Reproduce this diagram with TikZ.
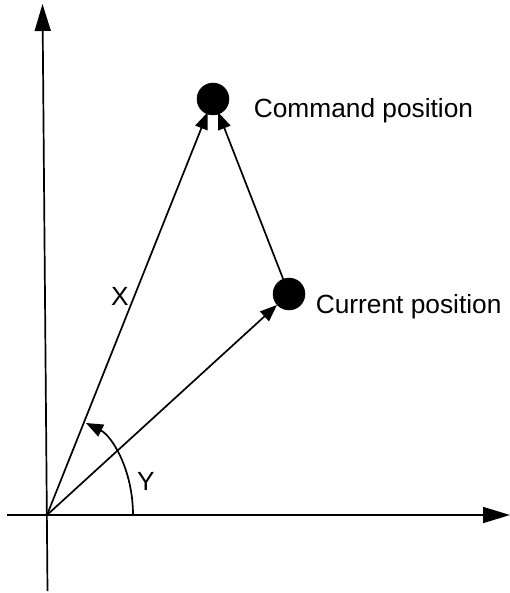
\documentclass[tikz,border=0pt]{standalone}
\usepackage{fontspec}
\setmainfont{Liberation Sans}
\usetikzlibrary{arrows.meta}
\begin{document}
\begin{tikzpicture}[x=1pt,y=-1pt,
  line width=1.7pt,
  axis/.style={-{Triangle[length=27pt,width=16pt]}},
  vec/.style={-{Triangle[length=17pt,width=13pt]}},
  dot/.style={circle,fill=black,draw=black,line width=0.5pt,minimum size=32pt,inner sep=0pt},
  lbl/.style={font=\fontsize{26.3}{30}\selectfont,inner sep=0pt}]
\useasboundingbox (0,0) rectangle (510,593);
\coordinate (O) at (47,515);
\coordinate (vb) at (47.5,591);
\coordinate (vt) at (42.5,4);
\coordinate (hl) at (7,515);
\coordinate (hr) at (510,515);
\coordinate (as) at (133,515);
\coordinate (ae) at (86,423);
\node[dot] (cmd) at (213,99) {};
\node[dot] (cur) at (289,294) {};
\draw[axis] (vb) -- (vt);
\draw[axis] (hl) -- (hr);
\draw[vec,shorten >=-2pt] (O) -- (cmd);
\draw[vec,shorten >=-2pt] (cur) -- (cmd);
\draw[vec] (O) -- (cur);
\draw[vec] (as) .. controls (133,470) and (112,436) .. (ae);
\node[lbl,anchor=base west] (tcmd) at (253,118) {Command position};
\node[lbl,anchor=base west] (tcur) at (315,313) {Current position};
\node[lbl,anchor=base] (tx) at (120,305) {X};
\node[lbl,anchor=base] (ty) at (146,490) {Y};
\end{tikzpicture}
\end{document}
